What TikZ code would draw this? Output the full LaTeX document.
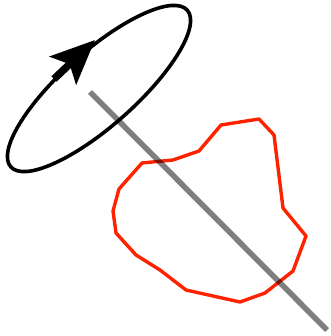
\documentclass[tikz,border=0pt]{standalone}
\usepackage{tikz}
\usetikzlibrary{arrows.meta}
\definecolor{blobred}{RGB}{255,34,0}
\tikzset{
  x=1pt, y=-1pt,
  loopline/.style={draw=black, line width=3.6pt},
  spinarrow/.style={line width=7.5pt, -{Stealth[length=44pt, width=38pt, inset=9pt]}},
  blob/.style={draw=blobred, line width=3.4pt, line join=round},
  axisline/.style={draw=black, draw opacity=0.5, line width=5.5pt}
}
\begin{document}
\begin{tikzpicture}
\useasboundingbox (0,0) rectangle (330,336);

% rotation loop
\coordinate (loopc) at (99,88.5);
\draw[loopline, rotate around={41.6:(loopc)}] (loopc) ellipse [x radius=118, y radius=37];
\coordinate (arrowtail) at (54,79);
\coordinate (arrowtip) at (95,40);
\draw[spinarrow] (arrowtail) -- (arrowtip);

% body outline
\draw[blob] (142,163) -- (173,160) -- (199,151) -- (221,125) -- (259,119)
  -- (274,135) -- (283,208) -- (306,236) -- (293,271) -- (265,293)
  -- (240,302) -- (186,290) -- (160,270) -- (136,255) -- (116,233)
  -- (113,211) -- (119,189) -- cycle;

% axis
\coordinate (axistop) at (90,92);
\coordinate (axisend) at (327,330);
\draw[axisline] (axistop) -- (axisend);

\end{tikzpicture}
\end{document}
